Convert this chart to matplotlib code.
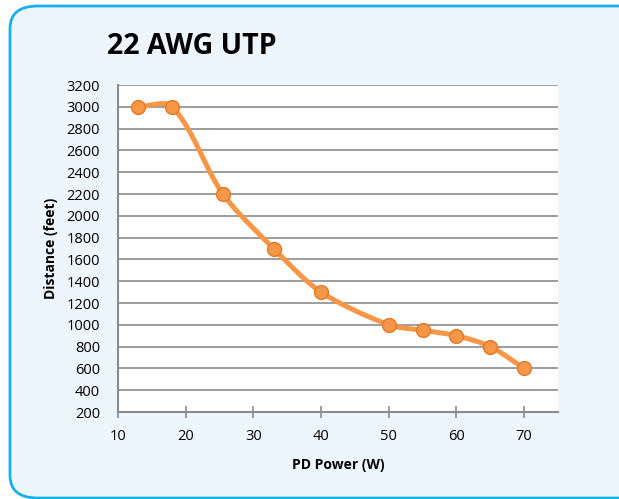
import numpy as np
import matplotlib.pyplot as plt
from matplotlib.patches import FancyBboxPatch

power = [13, 18, 25.5, 33, 40, 50, 55, 60, 65, 70]
distance = [3000, 3000, 2200, 1700, 1300, 1000, 950, 900, 800, 600]
xticks = [10, 20, 30, 40, 50, 60, 70]
yticks = list(range(200, 3201, 200))


def smooth(x, y, sx=6.77, sy=0.109, n=30):
    # bezier through the points, tangents scaled by segment length (pixel space)
    P = np.column_stack([np.asarray(x, float) * sx, np.asarray(y, float) * sy])
    m = len(P)
    T = np.zeros_like(P)
    for i in range(m):
        a = P[max(i - 1, 0)]
        b = P[min(i + 1, m - 1)]
        T[i] = (b - a)
    L = np.linalg.norm(np.diff(P, axis=0), axis=1)
    t = np.linspace(0, 1, n)[:, None]
    pts = []
    for i in range(m - 1):
        p1, p2 = P[i], P[i + 1]
        d1 = T[i] / (np.linalg.norm(T[i]) + 1e-9) * L[i] / 3
        d2 = T[i + 1] / (np.linalg.norm(T[i + 1]) + 1e-9) * L[i] / 3
        c1 = p1 + d1 * 0.9
        c2 = p2 - d2 * 0.9
        pts.append((1 - t) ** 3 * p1 + 3 * (1 - t) ** 2 * t * c1
                   + 3 * (1 - t) * t ** 2 * c2 + t ** 3 * p2)
    pts = np.vstack(pts)
    return pts[:, 0] / sx, pts[:, 1] / sy


plt.rcParams['font.family'] = ['Open Sans', 'DejaVu Sans']

fig = plt.figure(figsize=(6.19, 4.99), dpi=100)
fig.patch.set_facecolor('white')
box = FancyBboxPatch((10 / 619, 1 / 499), 640 / 619, 492 / 499,
                     boxstyle='round,pad=0,rounding_size=0.045',
                     transform=fig.transFigure, facecolor='#EEF6FD',
                     edgecolor='#18B0EA', linewidth=2, zorder=-5)
fig.patches.append(box)

ax = fig.add_axes([118 / 619, 87 / 499, 440 / 619, 327 / 499])
ax.set_zorder(2)
ax.set_facecolor('white')

lx, ly = smooth(power, distance)
ax.plot(lx, ly, color='#F79646', linewidth=3.6, solid_capstyle='round', zorder=3)
ax.plot(power, distance, 'o', markersize=10, markerfacecolor='#F79646',
        markeredgecolor='#E07B2A', markeredgewidth=1, zorder=4)

ax.set_xlim(10, 75)
ax.set_ylim(200, 3200)
ax.set_xticks(xticks)
ax.set_yticks(yticks)
ax.grid(axis='y', color='#8C8C8C', linewidth=1.2)
ax.set_axisbelow(True)
for s in ['top', 'right']:
    ax.spines[s].set_visible(False)
for s in ['left', 'bottom']:
    ax.spines[s].set_color('#8C8C8C')
    ax.spines[s].set_linewidth(1.5)
ax.tick_params(axis='x', direction='inout', length=8, width=1.2, color='#8C8C8C',
               labelsize=10.5, pad=8)
ax.tick_params(axis='y', length=0, labelsize=10.5, pad=13)

ax.set_xlabel('PD Power (W)', fontsize=10, fontweight='bold', labelpad=10)
ax.set_ylabel('Distance (feet)', fontsize=10, fontweight='bold', labelpad=6)

fig.text(192 / 619, 1 - 46 / 499, '22 AWG UTP', fontsize=20.5, fontweight='bold',
         ha='center', va='center')

fig.savefig('out.png', dpi=100)
